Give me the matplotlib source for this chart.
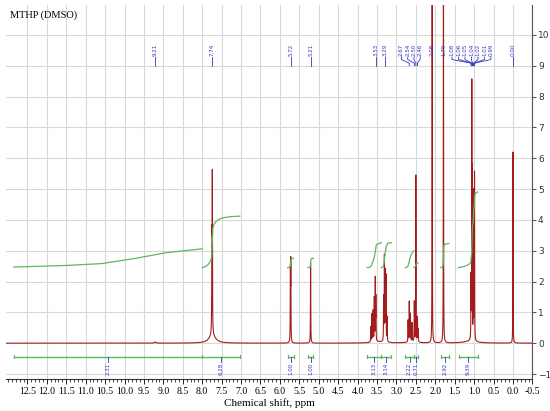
import numpy as np
import matplotlib
matplotlib.use('Agg')
import matplotlib.pyplot as plt

# ==============================================================================
# Data
# ==============================================================================
# peak positions (ppm), heights and half widths of the 1H lines
peak_ppm = [9.21, 7.75, 7.74, 5.73, 5.72, 5.21,
            3.66, 3.63, 3.60, 3.57, 3.545, 3.53,
            3.33, 3.31, 3.29, 3.27, 3.24,
            2.70, 2.67, 2.64, 2.60, 2.54, 2.50, 2.46, 2.44,
            2.08, 1.79,
            1.08, 1.06, 1.05, 1.02, 1.01, 0.99,
            0.00]
peak_height = [0.04, 2.9, 4.8, 2.2, 2.5, 2.6,
               0.5, 0.9, 1.0, 1.4, 2.0, 1.4,
               1.4, 2.7, 2.2, 2.1, 0.8,
               0.7, 1.3, 0.9, 0.6, 1.3, 5.4, 0.8, 0.4,
               16.0, 16.0,
               2.0, 8.0, 5.0, 4.6, 2.6, 5.4,
               6.2]
peak_width = [0.02, 0.005, 0.004, 0.004, 0.004, 0.004,
              0.004, 0.004, 0.004, 0.004, 0.004, 0.004,
              0.004, 0.004, 0.004, 0.004, 0.004,
              0.004, 0.004, 0.004, 0.004, 0.004, 0.003, 0.004, 0.004,
              0.003, 0.003,
              0.004, 0.003, 0.003, 0.003, 0.003, 0.003,
              0.003]

# broad baseline humps
hump_ppm = [7.74, 3.45, 2.6, 1.1]
hump_height = [0.25, 0.04, 0.04, 0.06]
hump_width = [0.10, 0.20, 0.15, 0.20]

# peak labels at the top (single labels and two clusters)
single_labels = ['9.21', '7.74', '5.72', '5.21', '3.53', '3.29', '2.08', '1.79', '0.00']
single_ppm = [9.21, 7.74, 5.72, 5.21, 3.53, 3.29, 2.08, 1.79, 0.00]
cluster1_labels = ['2.67', '2.54', '2.50', '2.46']
cluster1_ppm = [2.67, 2.54, 2.50, 2.46]
cluster2_labels = ['1.08', '1.06', '1.05', '1.04', '1.02', '1.01', '0.99']
cluster2_ppm = [1.08, 1.06, 1.05, 1.04, 1.02, 1.01, 0.99]

# integration regions: (left ppm, right ppm), value, curve start/end level
int_left = [12.85, 8.0, 5.80, 5.28, 3.75, 3.39, 2.77, 2.55, 1.86, 1.40]
int_right = [8.0, 7.03, 5.65, 5.14, 3.39, 3.13, 2.55, 2.45, 1.65, 0.91]
int_value = ['2.31', '6.28', '1.00', '1.00', '3.13', '3.14', '2.22', '0.71', '2.92', '9.39']
int_y0 = [2.47, 2.45, 2.45, 2.45, 2.45, 2.45, 2.45, 2.45, 2.45, 2.45]
int_y1 = [3.06, 4.12, 2.75, 2.75, 3.26, 3.26, 3.00, 2.60, 3.23, 4.90]

# the broad first integral curve, read point by point
broad_int_x = [12.85, 11.5, 10.6, 9.77, 8.9, 8.0]
broad_int_y = [2.47, 2.52, 2.58, 2.74, 2.94, 3.06]

# ==============================================================================
# Build the spectrum
# ==============================================================================
x = np.linspace(13.1, -0.6, 40000)
y = np.zeros_like(x)
for p, h, w in zip(peak_ppm, peak_height, peak_width):
    y += h * w**2 / ((x - p)**2 + w**2)
for p, h, w in zip(hump_ppm, hump_height, hump_width):
    y += h * w**2 / ((x - p)**2 + w**2)

red = '#a31c1c'
green = '#5cb85c'
blue = '#3535c0'
serif = 'Liberation Serif'

fig = plt.figure(figsize=(5.5, 4.11), dpi=100)
ax = fig.add_axes([0.011, 0.078, 0.957, 0.91])

ax.plot(x, y, color=red, lw=0.8, zorder=3)

# integral curves
ax.plot(broad_int_x, broad_int_y, color=green, lw=0.9, zorder=4)
for i in range(1, len(int_left)):
    m = (x <= int_left[i]) & (x >= int_right[i])
    cum = np.cumsum(y[m])
    cum = (cum - cum[0]) / (cum[-1] - cum[0])
    ax.plot(x[m], int_y0[i] + (int_y1[i] - int_y0[i]) * cum, color=green, lw=0.9, zorder=4)

# integration bars and values at the bottom
bar_y = -0.44
for l, r, v in zip(int_left, int_right, int_value):
    ax.plot([l, r], [bar_y, bar_y], color=green, lw=1.0, zorder=4)
    ax.plot([l, l], [bar_y - 0.05, bar_y + 0.05], color=green, lw=0.8, zorder=4)
    ax.plot([r, r], [bar_y - 0.05, bar_y + 0.05], color=green, lw=0.8, zorder=4)
    c = (l + r) / 2
    ax.plot([c, c], [bar_y, bar_y - 0.17], color=blue, lw=0.6, zorder=4)
    ax.text(c, bar_y - 0.18, v, rotation=90, ha='center', va='top',
            fontsize=4, color=blue, zorder=5)

# peak labels at the top
lab_top = 9.28
for t, p in zip(single_labels, single_ppm):
    ax.plot([p, p], [9.0, lab_top], color=blue, lw=0.6)
    ax.text(p, lab_top + 0.02, t, rotation=90, ha='center', va='bottom',
            fontsize=4, color=blue)

for labels, ppms, centre, step in [(cluster1_labels, cluster1_ppm, 2.63, 0.16),
                                   (cluster2_labels, cluster2_ppm, 1.07, 0.167)]:
    n = len(labels)
    for i in range(n):
        lx = centre + ((n - 1) / 2 - i) * step
        p = ppms[i]
        ax.plot([lx, lx, p, p], [lab_top, 9.2, 9.08, 9.0], color=blue, lw=0.6)
        ax.text(lx, lab_top + 0.02, labels[i], rotation=90, ha='center', va='bottom',
                fontsize=4, color=blue)

# axes styling
ax.set_xlim(13.05, -0.5)
ax.set_ylim(-1.16, 10.97)
ax.set_xticks(np.arange(12.5, -0.51, -0.5))
ax.set_xticklabels([f'{v:.1f}' for v in np.arange(12.5, -0.51, -0.5)],
                   fontsize=7, family=serif)
ax.set_xticks(np.arange(13.0, -0.51, -0.1), minor=True)
ax.set_yticks(range(-1, 11))
ax.yaxis.tick_right()
ax.tick_params(axis='y', labelsize=6.5, length=3, width=0.6, colors='#333333', pad=1)
ax.tick_params(axis='x', which='major', length=3.5, width=0.6, pad=2)
ax.tick_params(axis='x', which='minor', length=2, width=0.5)
ax.grid(True, color='#d9d9d9', lw=0.8, zorder=0)
ax.set_axisbelow(True)
for s in ['top', 'left']:
    ax.spines[s].set_visible(False)
ax.spines['right'].set_color('#555555')
ax.spines['bottom'].set_color('#333333')
ax.spines['right'].set_linewidth(0.8)
ax.spines['bottom'].set_linewidth(0.8)

ax.set_xlabel('Chemical shift, ppm', fontsize=8, family=serif, labelpad=2)
fig.text(0.018, 0.962, 'MTHP (DMSO)', fontsize=7.5, family=serif, va='center')

fig.savefig('out.png', dpi=100)
